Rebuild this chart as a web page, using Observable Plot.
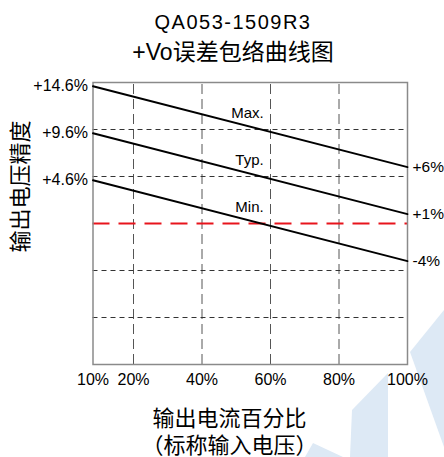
<!DOCTYPE html>
<html>
<head>
<meta charset="utf-8">
<script src="https://cdn.jsdelivr.net/npm/d3@7"></script>
<script src="https://cdn.jsdelivr.net/npm/@observablehq/plot@0.6"></script>
<style>
  html, body { margin: 0; padding: 0; background: #fff; }
  #wrap { position: relative; width: 444px; height: 457px; overflow: hidden; background: #fff;
          font-family: "Liberation Sans", "Noto Sans CJK SC", sans-serif; color: #000; }
  #bg { position: absolute; left: 0; top: 0; }
  .t { position: absolute; left: 11px; width: 444px; text-align: center; white-space: nowrap; }
  #t1 { top: 8px; line-height: 28px; font-size: 20px; letter-spacing: 1.5px; }
  #t2 { top: 38px; line-height: 28px; font-size: 23px; }
  #chart { position: absolute; left: 0; top: 70px; }
  #chart svg { overflow: visible; }
</style>
</head>
<body>
<div id="wrap">
  <svg id="bg" width="444" height="457">
    <g fill="#dde9f5">
      <polygon points="410,352 444,310 444,447"/>
      <polygon points="388,373 388,457 350,457 352,410"/>
      <polygon points="313,443 343,457 305,457"/>
    </g>
  </svg>
  <div class="t" id="t1">QA053-1509R3</div>
  <div class="t" id="t2">+Vo误差包络曲线图</div>
  <div id="chart"></div>
</div>
<script>
// ---- data ----
const loadPct = [10, 100];                 // output current, % of rated
const seriesNames = ["Max.", "Typ.", "Min."];
const maxVals = [14.6, 6];
const typVals = [9.6, 1];
const minVals = [4.6, -4];
const leftLabels = ["+14.6%", "+9.6%", "+4.6%"];
const rightLabels = ["+6%", "+1%", "-4%"];
const xTicks = [10, 20, 40, 60, 80, 100];
const gridX = [20, 40, 60, 80];
const gridY = [10, 5, -5, -10];
const refLineY = [0];
const yLabel = "输出电压精度";
const xLabel1 = "输出电流百分比";
const xLabel2 = "（标称输入电压）";

// ---- build tables ----
const allVals = [maxVals, typVals, minVals];
const lineRows = [];
seriesNames.forEach((s, i) => loadPct.forEach((x, j) => lineRows.push({series: s, x, y: allVals[i][j]})));
const leftRows = seriesNames.map((s, i) => ({x: loadPct[0], y: allVals[i][0], text: leftLabels[i]}));
const rightRows = seriesNames.map((s, i) => ({x: loadPct[1], y: allVals[i][1], text: rightLabels[i]}));
const labelX = 58;
const nameRows = seriesNames.map((s, i) => {
  const [a, b] = allVals[i];
  const t = (labelX - loadPct[0]) / (loadPct[1] - loadPct[0]);
  return {x: labelX, y: a + (b - a) * t, text: s};
});

const chart = Plot.plot({
  width: 444,
  height: 387,
  marginLeft: 92.5,
  marginRight: 37,
  marginTop: 12,
  marginBottom: 93,
  style: {background: "none", fontFamily: "'Liberation Sans', 'Noto Sans CJK SC', sans-serif", fontSize: "16px", color: "#000", overflow: "visible"},
  x: {type: "linear", domain: [10, 20, 100], range: [92.5, 133, 407]},
  y: {domain: [-15, 15]},
  marks: [
    Plot.ruleX(gridX, {y1: -15, y2: 15, stroke: "#555", strokeWidth: 1, strokeDasharray: "10,5"}),
    Plot.ruleY(gridY, {stroke: "#333", strokeWidth: 1, strokeDasharray: "5,4"}),
    Plot.ruleY(refLineY, {stroke: "#e8141c", strokeWidth: 2, strokeDasharray: "17,9"}),
    Plot.frame({stroke: "#8a8a8a", strokeWidth: 1.5}),
    Plot.line(lineRows, {x: "x", y: "y", z: "series", stroke: "#000", strokeWidth: 2}),
    Plot.text(leftRows, {x: "x", y: "y", text: "text", textAnchor: "end", dx: -5, fontSize: 16, fill: "#000"}),
    Plot.text(rightRows, {x: "x", y: "y", text: "text", textAnchor: "start", dx: 5, fontSize: 15.5, fill: "#000"}),
    Plot.text(nameRows, {x: "x", y: "y", text: "text", textAnchor: "end", dy: -16, fontSize: 15, fill: "#000"}),
    Plot.axisX(xTicks, {tickSize: 0, tickPadding: 9, tickFormat: d => d + "%", fontSize: 16, label: null, fill: "#000"}),
    Plot.axisY({ticks: [], label: null, tickSize: 0}),
    Plot.text([yLabel], {text: d => d, frameAnchor: "left", textAnchor: "middle", lineAnchor: "middle", rotate: -90, dx: -72.5, dy: -37, fontSize: 22, fill: "#000"}),
    Plot.text([xLabel1], {text: d => d, x: () => 48, frameAnchor: "bottom", lineAnchor: "middle", textAnchor: "middle", dy: 54, fontSize: 22, fill: "#000"}),
    Plot.text([xLabel2], {text: d => d, x: () => 48, frameAnchor: "bottom", lineAnchor: "middle", textAnchor: "middle", dy: 81, fontSize: 22, fill: "#000"})
  ]
});
document.getElementById("chart").appendChild(chart);
</script>
</body>
</html>
